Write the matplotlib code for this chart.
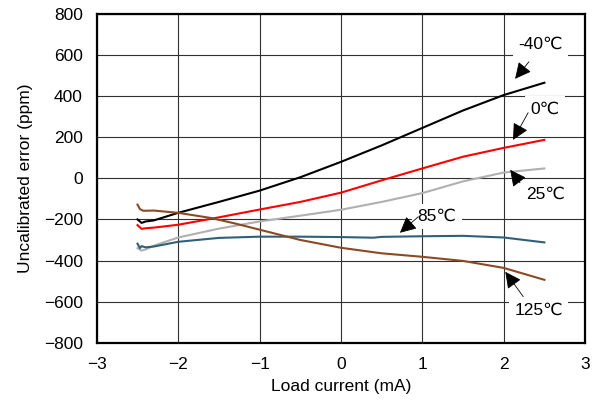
import matplotlib
matplotlib.use("Agg")
import matplotlib.pyplot as plt

plt.rcParams['font.family'] = ['Liberation Sans', 'DejaVu Sans']
plt.rcParams['font.size'] = 12.5

# load current (mA) and error (ppm)
x_m40 = [-2.5, -2.45, -2.4, -2.3, -2.0, -1.5, -1.0, -0.5, 0.0, 0.5, 1.0, 1.5, 2.0, 2.5]
y_m40 = [-200, -217, -210, -205, -168, -115, -60, 5, 80, 160, 245, 330, 405, 465]

x_0 = [-2.5, -2.45, -2.4, -2.3, -2.0, -1.5, -1.0, -0.5, 0.0, 0.5, 1.0, 1.5, 2.0, 2.5]
y_0 = [-228, -246, -243, -240, -226, -190, -152, -115, -70, -10, 48, 105, 148, 187]

x_25 = [-2.5, -2.45, -2.4, -2.3, -2.0, -1.5, -1.0, -0.5, 0.0, 0.5, 1.0, 1.5, 2.0, 2.5]
y_25 = [-340, -352, -346, -328, -288, -245, -210, -182, -153, -115, -72, -15, 28, 48]

x_85 = [-2.5, -2.47, -2.45, -2.4, -2.3, -2.0, -1.5, -1.0, -0.5, 0.0, 0.4, 0.5, 1.0, 1.5, 2.0, 2.5]
y_85 = [-318, -340, -330, -336, -332, -309, -290, -284, -284, -286, -289, -285, -282, -280, -288, -312]

x_125 = [-2.5, -2.47, -2.43, -2.3, -2.0, -1.6, -1.3, -1.0, -0.5, 0.0, 0.5, 1.0, 1.5, 2.0, 2.5]
y_125 = [-128, -150, -158, -157, -168, -193, -220, -250, -300, -338, -365, -382, -402, -436, -494]

labels = ['-40℃', '0℃', '25℃', '85℃', '125℃']
colors = ['#000000', '#ff0000', '#b0b0b0', '#2f6079', '#8b4a23']

# label text position, arrow tail, arrow tip (data units)
text_pos = [(2.45, 650), (2.51, 338), (2.51, -80), (1.18, -187), (2.43, -644)]
arrow_tail = [(2.31, 567), (2.30, 319), (2.20, -22), (0.95, -187), (2.24, -576)]
arrow_tip = [(2.14, 484), (2.115, 187), (2.08, 41), (0.725, -265), (2.02, -455)]

fig = plt.figure(figsize=(5.94, 4.08), dpi=100)
ax = fig.add_axes([0.163, 0.16, 0.822, 0.806])

series = [(x_m40, y_m40), (x_0, y_0), (x_25, y_25), (x_85, y_85), (x_125, y_125)]
for (xs, ys), c in zip(series, colors):
    ax.plot(xs, ys, color=c, linewidth=1.5, zorder=3)

ax.set_xlim(-3, 3)
ax.set_ylim(-800, 800)
ax.set_xticks(range(-3, 4))
ax.set_yticks(range(-800, 801, 200))
ax.grid(True, color='#303030', linewidth=0.8)
ax.tick_params(length=0, pad=10)
for s in ax.spines.values():
    s.set_linewidth(1.6)
ax.set_xlabel('Load current (mA)', labelpad=5)
ax.set_ylabel('Uncalibrated error (ppm)', labelpad=8)

for lab, tp, tail, tip in zip(labels, text_pos, arrow_tail, arrow_tip):
    ax.text(tp[0], tp[1], lab, ha='center', va='center', zorder=4,
            bbox=dict(boxstyle='square,pad=0.3', fc='white', ec='none'))
    ax.annotate('', xy=tip, xytext=tail, zorder=5,
                arrowprops=dict(arrowstyle='-|>,head_length=0.8,head_width=0.4',
                                color='black', lw=0.6, shrinkA=0, shrinkB=0))

fig.savefig('out.png', dpi=100)
